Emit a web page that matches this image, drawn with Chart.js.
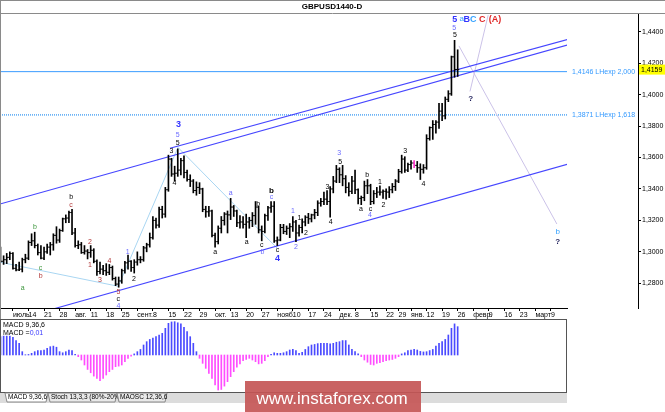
<!DOCTYPE html>
<html>
<head>
<meta charset="utf-8">
<script src="https://cdn.jsdelivr.net/npm/chart.js@4.4.1/dist/chart.umd.min.js"></script>
<style>
  html, body { margin: 0; padding: 0; background: #fff; }
  #wrap { position: relative; width: 665px; height: 412px; overflow: hidden; }
  #price { position: absolute; left: 0; top: 0; }
  #macd { position: absolute; left: 0; top: 319px; }
</style>
</head>
<body>
<div id="wrap">
  <canvas id="price" width="665" height="319"></canvas>
  <canvas id="macd" width="665" height="93"></canvas>
</div>
<script>
// daily bars, 3 Jul 2017 .. 26 Jan 2018 (index = trading day)
const openP = [
  1.3020,1.2940,1.2950,1.2965,1.2990,1.2895,1.2885,1.2890,1.2950,1.2960,
  1.3060,1.3070,1.3040,1.2995,1.2960,1.3000,1.3030,1.3045,1.3105,1.3075,
  1.3135,1.3210,1.3215,1.3250,1.3120,1.3040,1.3045,1.2995,1.3005,1.2995,
  1.3010,1.2940,1.2875,1.2890,1.2880,1.2870,1.2900,1.2830,1.2795,1.2815,
  1.2880,1.2930,1.2940,1.2900,1.2935,1.2950,1.2950,1.3025,1.3045,1.3090,
  1.3200,1.3170,1.3270,1.3240,1.3395,1.3590,1.3495,1.3500,1.3520,1.3580,
  1.3505,1.3460,1.3450,1.3390,1.3410,1.3400,1.3270,1.3255,1.3260,1.3105,
  1.3065,1.3150,1.3200,1.3240,1.3235,1.3285,1.3260,1.3185,1.3190,1.3175,
  1.3190,1.3200,1.3230,1.3285,1.3140,1.3130,1.3230,1.3280,1.3290,1.3070,
  1.3075,1.3155,1.3130,1.3150,1.3160,1.3190,1.3120,1.3155,1.3190,1.3220,
  1.3210,1.3235,1.3250,1.3310,1.3320,1.3335,1.3320,1.3400,1.3450,1.3525,
  1.3490,1.3465,1.3410,1.3385,1.3450,1.3395,1.3340,1.3345,1.3420,1.3420,
  1.3320,1.3370,1.3380,1.3380,1.3385,1.3380,1.3395,1.3415,1.3450,1.3510,
  1.3590,1.3520,1.3555,1.3565,1.3550,1.3535,1.3525,1.3535,1.3720,1.3790,
  1.3810,1.3825,1.3895,1.3865,1.3970,1.4005,1.4240,1.4160
];
const highP = [
  1.3030,1.2975,1.2990,1.3000,1.2995,1.2920,1.2935,1.2960,1.2985,1.3070,
  1.3115,1.3125,1.3050,1.3040,1.3030,1.3050,1.3060,1.3115,1.3160,1.3145,
  1.3215,1.3235,1.3260,1.3270,1.3150,1.3070,1.3060,1.3040,1.3015,1.3040,
  1.3020,1.2950,1.2935,1.2915,1.2925,1.2920,1.2910,1.2840,1.2840,1.2890,
  1.2940,1.2980,1.2945,1.2950,1.3000,1.2970,1.3035,1.3055,1.3120,1.3225,
  1.3215,1.3285,1.3290,1.3410,1.3615,1.3595,1.3545,1.3655,1.3595,1.3610,
  1.3520,1.3490,1.3460,1.3445,1.3440,1.3405,1.3290,1.3290,1.3265,1.3120,
  1.3165,1.3225,1.3250,1.3260,1.3340,1.3295,1.3265,1.3230,1.3225,1.3240,
  1.3220,1.3250,1.3320,1.3290,1.3165,1.3240,1.3290,1.3320,1.3320,1.3095,
  1.3175,1.3175,1.3165,1.3180,1.3225,1.3200,1.3170,1.3210,1.3230,1.3245,
  1.3240,1.3270,1.3325,1.3340,1.3380,1.3390,1.3415,1.3480,1.3550,1.3535,
  1.3550,1.3485,1.3440,1.3480,1.3520,1.3400,1.3355,1.3450,1.3460,1.3430,
  1.3390,1.3410,1.3420,1.3395,1.3400,1.3415,1.3435,1.3460,1.3525,1.3615,
  1.3605,1.3565,1.3580,1.3580,1.3575,1.3560,1.3555,1.3745,1.3795,1.3835,
  1.3835,1.3945,1.3945,1.3985,1.4025,1.4245,1.4345,1.4285
];
const lowP = [
  1.2935,1.2920,1.2925,1.2950,1.2890,1.2878,1.2880,1.2872,1.2930,1.2950,
  1.3040,1.3025,1.2980,1.2955,1.2950,1.2990,1.2980,1.3010,1.3055,1.3060,
  1.3130,1.3185,1.3185,1.3110,1.3030,1.3020,1.2990,1.2985,1.2955,1.2965,
  1.2930,1.2850,1.2860,1.2855,1.2850,1.2855,1.2820,1.2785,1.2775,1.2800,
  1.2865,1.2890,1.2875,1.2865,1.2915,1.2930,1.2940,1.3000,1.3030,1.3080,
  1.3150,1.3155,1.3215,1.3220,1.3385,1.3480,1.3450,1.3480,1.3490,1.3470,
  1.3450,1.3415,1.3375,1.3360,1.3370,1.3255,1.3220,1.3225,1.3095,1.3030,
  1.3050,1.3120,1.3170,1.3120,1.3205,1.3225,1.3160,1.3150,1.3150,1.3090,
  1.3150,1.3160,1.3175,1.3120,1.3070,1.3120,1.3200,1.3250,1.3060,1.3040,
  1.3070,1.3115,1.3110,1.3090,1.3130,1.3065,1.3100,1.3120,1.3165,1.3180,
  1.3190,1.3210,1.3230,1.3290,1.3300,1.3300,1.3220,1.3375,1.3440,1.3440,
  1.3420,1.3375,1.3355,1.3370,1.3370,1.3305,1.3300,1.3325,1.3370,1.3300,
  1.3305,1.3345,1.3360,1.3340,1.3335,1.3345,1.3375,1.3390,1.3440,1.3500,
  1.3505,1.3510,1.3525,1.3535,1.3505,1.3460,1.3500,1.3525,1.3710,1.3715,
  1.3755,1.3785,1.3835,1.3845,1.3955,1.3995,1.4110,1.4115
];
const closeP = [
  1.2940,1.2950,1.2965,1.2990,1.2895,1.2885,1.2890,1.2950,1.2960,1.3060,
  1.3070,1.3040,1.2995,1.2960,1.3000,1.3030,1.3045,1.3105,1.3075,1.3135,
  1.3210,1.3215,1.3250,1.3120,1.3040,1.3045,1.2995,1.3005,1.2995,1.3010,
  1.2940,1.2875,1.2890,1.2880,1.2870,1.2900,1.2830,1.2795,1.2815,1.2880,
  1.2930,1.2940,1.2900,1.2935,1.2950,1.2950,1.3025,1.3045,1.3090,1.3200,
  1.3170,1.3270,1.3240,1.3395,1.3590,1.3495,1.3500,1.3520,1.3580,1.3505,
  1.3460,1.3450,1.3390,1.3410,1.3400,1.3270,1.3255,1.3260,1.3105,1.3065,
  1.3150,1.3200,1.3240,1.3235,1.3285,1.3260,1.3185,1.3190,1.3175,1.3190,
  1.3200,1.3230,1.3285,1.3140,1.3130,1.3230,1.3280,1.3290,1.3070,1.3075,
  1.3155,1.3130,1.3150,1.3160,1.3190,1.3120,1.3155,1.3190,1.3220,1.3210,
  1.3235,1.3250,1.3310,1.3320,1.3335,1.3320,1.3400,1.3450,1.3525,1.3490,
  1.3465,1.3410,1.3385,1.3450,1.3395,1.3340,1.3345,1.3420,1.3420,1.3320,
  1.3370,1.3380,1.3380,1.3385,1.3380,1.3395,1.3415,1.3450,1.3510,1.3590,
  1.3520,1.3555,1.3565,1.3550,1.3535,1.3525,1.3535,1.3720,1.3790,1.3810,
  1.3825,1.3895,1.3865,1.3970,1.4005,1.4240,1.4160,1.4159
];

// MACD 9,36,6 histogram
const macdHist = [
  0.0066,0.0068,0.0068,0.0068,0.0064,0.0052,0.0042,0.0012,0.0001,0.0002,
  0.0006,0.0012,0.0016,0.0016,0.0018,0.0024,0.0030,0.0032,0.0028,0.0012,
  0.0008,0.0012,0.0018,0.0016,0.0002,-0.0006,-0.0018,-0.0036,-0.0052,-0.0064,
  -0.0076,-0.0084,-0.0092,-0.0084,-0.0072,-0.0060,-0.0052,-0.0042,-0.0040,-0.0036,
  -0.0024,-0.0012,-0.0004,0.0004,0.0012,0.0020,0.0036,0.0048,0.0056,0.0061,
  0.0066,0.0072,0.0078,0.0096,0.0114,0.0119,0.0120,0.0116,0.0112,0.0100,
  0.0084,0.0066,0.0042,0.0012,-0.0012,-0.0030,-0.0048,-0.0066,-0.0084,-0.0108,
  -0.0126,-0.0124,-0.0112,-0.0096,-0.0078,-0.0060,-0.0044,-0.0032,-0.0020,-0.0016,
  -0.0012,-0.0018,-0.0024,-0.0032,-0.0030,-0.0020,-0.0006,0.0002,0.0008,0.0006,
  0.0006,0.0008,0.0012,0.0018,0.0020,0.0016,0.0006,0.0010,0.0020,0.0030,
  0.0036,0.0038,0.0041,0.0042,0.0042,0.0042,0.0040,0.0042,0.0046,0.0048,
  0.0052,0.0052,0.0036,0.0020,0.0012,0.0004,-0.0006,-0.0018,-0.0026,-0.0034,
  -0.0036,-0.0030,-0.0028,-0.0024,-0.0020,-0.0018,-0.0016,-0.0012,-0.0006,0.0004,
  0.0008,0.0016,0.0018,0.0020,0.0018,0.0013,0.0011,0.0012,0.0016,0.0020,
  0.0032,0.0042,0.0048,0.0056,0.0072,0.0096,0.0112,0.0102
];

// date axis (Fridays), index into the bar list, continues into the future
const tickIdx = [4,9,14,19,24,29,34,39,44,49,54,59,64,69,74,79,84,89,94,99,104,
  109,114,119,124,128,132,137,142,147,152,157,162,167,172,177];
const tickLabels = ['июль','14','21','28','авг.','11','18','25','сент.','8','15','22','29',
  'окт.','13','20','27','нояб.','10','17','24','дек.','8','15','22','29','янв.','12','19','26',
  'февр.','9','16','23','март','9'];
const priceTicks = [1.28,1.30,1.32,1.34,1.36,1.38,1.40,1.42,1.44];

// channel and wave lines: [index, price] pairs
const chanLow = [[17.5, 1.2640], [182.2, 1.3556]];
const chanMid = [[-0.16, 1.3304], [182.2, 1.4315]];
const chanUp = [[54.5, 1.3659], [182.2, 1.4350]];
const waveA = [[-0.16, 1.2934], [37.88, 1.2781]];
const waveB = [[37.88, 1.2781], [57.07, 1.3664]];
const waveC = [[57.07, 1.3664], [89.23, 1.3018]];
const fcDown = [[147.4, 1.4310], [178.9, 1.3177]];
const fcUp = [[150.96, 1.4020], [156.8, 1.4505]];
const fibLevels = [1.4146, 1.3871];
const fibText = ['1,4146 LHexp 2,000', '1,3871 LHexp 1,618'];
const lastPrice = 1.4159;

// wave marks
const waveText = ['a','b','c','b','b','c','2','1','3','4','5','c','4','1','2',
  '3','4','5','5','3','a','a','a','b','c','b','b','c','c','4','1','1','2','2',
  '3','4','3','5','a','b','c','4','1','2','3','4','5','5','5','a','B','C','C','(A)','?','b','?'];
const waveIdx = [7.1,11.1,12.9,12.9,22.7,22.7,28.8,28.8,32.0,35.0,37.9,37.9,37.9,40.9,42.9,
  55.0,55.9,57.0,57.0,57.2,69.0,74.0,79.2,82.9,84.0,84.2,87.1,87.1,89.1,89.1,94.0,96.1,95.0,98.2,
  105.1,106.2,108.9,109.2,115.9,117.9,119.0,118.8,122.0,123.1,130.1,136.0,146.1,145.9,146.1,
  148.3,149.9,152.0,154.9,159.0,151.2,179.2,179.2];
const wavePrice = [1.2772,1.3160,1.2895,1.2848,1.3351,1.3298,1.3065,1.2916,1.2821,1.2942,1.2747,1.2700,1.2658,1.3001,1.2827,
  1.3643,1.3440,1.3690,1.3743,1.3807,1.3001,1.3372,1.3061,1.3301,1.3044,1.3001,1.3390,1.3349,1.3012,1.2958,1.3260,1.3213,1.3031,1.3118,
  1.3414,1.3188,1.3627,1.3573,1.3273,1.3489,1.3273,1.3234,1.3446,1.3298,1.3643,1.3431,1.4379,1.4425,1.4479,
  1.4479,1.4479,1.4479,1.4479,1.4479,1.3976,1.3128,1.3066];
const waveKind = ['g','g','g','r','k','r','r','r','r','r','r','k','v','v','k',
  'k','k','k','v','V','k','v','k','k','k','v','K','v','k','V','v','k','v','k',
  'k','k','v','k','k','k','k','v','k','k','k','k','k','v','V',
  'c','V','C','R','R','q','c','q'];

const FONT = '"Liberation Sans", Arial, sans-serif';
const kindStyle = {
  k: ['#000000', '7px'], K: ['#000000', 'bold 8px'], r: ['#b23a3a', '7px'], g: ['#3c963c', '7px'],
  v: ['#6a6aff', '7px'], V: ['#3434ff', 'bold 9px'], c: ['#35a2ff', '8px'], C: ['#35a2ff', 'bold 9px'],
  R: ['#e02828', 'bold 9px'], q: ['#1e1e5a', 'bold 8px']
};

const xMin = -0.16;
const yMin = 1.26429, yMax = 1.45126;

function seg(pts, color, width, dash) {
  return {
    type: 'line', data: pts.map(p => ({x: p[0], y: p[1]})), borderColor: color,
    borderWidth: width, borderDash: dash || [], pointRadius: 0, fill: false, order: 3
  };
}

const priceDecor = {
  id: 'priceDecor',
  afterDraw(chart) {
    const {ctx, chartArea: a, scales: {x, y}} = chart;
    ctx.save();
    // title bar
    ctx.strokeStyle = '#8a8a8a';
    ctx.lineWidth = 1;
    ctx.beginPath();
    ctx.moveTo(0, 0.5); ctx.lineTo(665, 0.5);
    ctx.moveTo(0, 13.5); ctx.lineTo(665, 13.5);
    ctx.moveTo(0.5, 0); ctx.lineTo(0.5, 319);
    ctx.stroke();
    ctx.fillStyle = '#000';
    ctx.font = 'bold 8px ' + FONT;
    ctx.textAlign = 'center';
    ctx.textBaseline = 'middle';
    ctx.fillText('GBPUSD1440-D', 332, 7);

    // level captions
    ctx.font = '7px ' + FONT;
    ctx.textAlign = 'left';
    ctx.fillStyle = '#3399ff';
    fibLevels.forEach((v, i) => ctx.fillText(fibText[i], a.right + 5, y.getPixelForValue(v)));

    // last price box
    const py = y.getPixelForValue(lastPrice);
    ctx.fillStyle = '#ffff00';
    ctx.fillRect(639, py - 5, 26, 10);
    ctx.fillStyle = '#000';
    ctx.fillText(lastPrice.toFixed(4).replace('.', ','), 641, py);

    // wave labels
    ctx.textAlign = 'center';
    waveText.forEach((t, i) => {
      const st = kindStyle[waveKind[i]];
      ctx.fillStyle = st[0];
      ctx.font = st[1] + ' ' + FONT;
      ctx.fillText(t, x.getPixelForValue(waveIdx[i]), y.getPixelForValue(wavePrice[i]));
    });
    ctx.restore();
  }
};

new Chart(document.getElementById('price'), {
  type: 'bar',
  data: {
    datasets: [
      seg(chanLow, '#4646ff', 1.2),
      seg(chanMid, '#4646ff', 1.2),
      seg(chanUp, '#4646ff', 1.2),
      seg(waveA, '#a9d6f2', 1),
      seg(waveB, '#a9d6f2', 1),
      seg(waveC, '#a9d6f2', 1),
      seg(fcDown, '#cbc2e8', 1),
      seg(fcUp, '#cbc2e8', 1),
      seg([[xMin, fibLevels[0]], [200, fibLevels[0]]], '#3a9cff', 1),
      seg([[xMin, fibLevels[1]], [200, fibLevels[1]]], '#55a8f5', 1.5, [1, 1]),
      {
        type: 'bar', data: highP.map((h, i) => ({x: i, y: [lowP[i], h]})),
        backgroundColor: highP.map((h, i) => i === 133 ? '#ff33cc' : '#000'),
        barThickness: 1, borderWidth: 0, order: 1
      },
      {
        type: 'scatter', data: openP.map((v, i) => ({x: i, y: v})), showLine: false,
        pointStyle: 'dash', pointRotation: 180, pointRadius: 1.6, pointBorderWidth: 1,
        pointBorderColor: '#000', pointBackgroundColor: '#000', order: 1
      },
      {
        type: 'scatter', data: closeP.map((v, i) => ({x: i, y: v})), showLine: false,
        pointStyle: 'dash', pointRotation: 0, pointRadius: 1.6, pointBorderWidth: 1,
        pointBorderColor: '#000', pointBackgroundColor: '#000', order: 1
      }
    ]
  },
  options: {
    responsive: false, animation: false, devicePixelRatio: 1,
    layout: {autoPadding: false, padding: {left: 0, right: 0, top: 14, bottom: 0}},
    plugins: {legend: {display: false}, tooltip: {enabled: false}, title: {display: false}},
    scales: {
      x: {
        type: 'linear', position: 'bottom', offset: false, bounds: 'data',
        min: xMin, max: xMin + 567 / 3.11,
        afterBuildTicks: s => { s.ticks = tickIdx.map(v => ({value: v})); },
        afterFit: s => { s.height = 11; s.paddingLeft = 0; s.paddingRight = 0; },
        ticks: {
          autoSkip: false, maxRotation: 0, minRotation: 0, align: 'start', padding: 0,
          color: '#000', font: {family: FONT, size: 7},
          callback: (v, i) => tickLabels[i]
        },
        grid: {display: true, offset: false, drawOnChartArea: false, drawTicks: true, tickLength: 3, color: '#000'},
        border: {display: true, color: '#000'}
      },
      y: {
        type: 'linear', position: 'right', min: yMin, max: yMax, weight: 0,
        ticks: {display: false}, grid: {display: false}, border: {display: false},
        afterFit: s => { s.width = 71; }
      },
      y2: {
        type: 'linear', position: 'right', min: yMin, max: yMax, weight: 1,
        afterBuildTicks: s => { s.ticks = priceTicks.map(v => ({value: v})); },
        afterFit: s => { s.width = 27; },
        ticks: {
          padding: 1, color: '#000', font: {family: FONT, size: 7},
          callback: v => v.toFixed(4).replace('.', ',')
        },
        grid: {display: true, drawOnChartArea: false, drawTicks: true, tickLength: 3, color: '#000'},
        border: {display: true, color: '#000'}
      }
    }
  },
  plugins: [priceDecor]
});

const macdDecor = {
  id: 'macdDecor',
  afterDraw(chart) {
    const {ctx, chartArea: a} = chart;
    ctx.save();
    ctx.strokeStyle = '#555';
    ctx.lineWidth = 1;
    ctx.strokeRect(0.5, a.top - 0.5, a.right, a.bottom - a.top + 1);
    ctx.font = '7px ' + FONT;
    ctx.textAlign = 'left';
    ctx.textBaseline = 'middle';
    ctx.fillStyle = '#000';
    ctx.fillText('MACD 9,36,6', 3, a.top + 5);
    ctx.fillText('MACD =', 3, a.top + 13);
    ctx.fillStyle = '#3a3aff';
    ctx.fillText('0,01', 3 + ctx.measureText('MACD =').width, a.top + 13);

    // tab strip
    const ty = a.bottom + 1;
    ctx.fillStyle = '#dcdcdc';
    ctx.fillRect(0, ty, a.right + 1, 10);
    const tabs = [['MACD 9,36,6', 5, 48, '#fff'], ['Stoch 13,3,3 (80%-20%)', 48, 117, '#e9e9e9'], ['MAOSC 12,36,6', 117, 167, '#e9e9e9']];
    ctx.font = '6.5px ' + FONT;
    tabs.forEach(t => {
      ctx.fillStyle = t[3];
      ctx.beginPath();
      ctx.moveTo(t[1], ty); ctx.lineTo(t[1] + 2, ty + 9); ctx.lineTo(t[2] - 2, ty + 9); ctx.lineTo(t[2], ty);
      ctx.closePath();
      ctx.fill();
      ctx.strokeStyle = '#888';
      ctx.stroke();
      ctx.fillStyle = '#000';
      ctx.fillText(t[0], t[1] + 3, ty + 4.5);
    });

    // watermark
    ctx.fillStyle = 'rgba(196, 86, 86, 0.92)';
    ctx.fillRect(245, 62, 176, 31);
    ctx.fillStyle = '#fff';
    ctx.font = '17px ' + FONT;
    ctx.textAlign = 'center';
    ctx.textBaseline = 'alphabetic';
    ctx.fillText('www.instaforex.com', 332, 85);
    ctx.restore();
  }
};

new Chart(document.getElementById('macd'), {
  type: 'bar',
  data: {
    datasets: [{
      data: macdHist.map((v, i) => ({x: i, y: v})),
      backgroundColor: macdHist.map(v => v >= 0 ? '#4a4aff' : '#ff4cff'),
      barThickness: 1, borderWidth: 0
    }]
  },
  options: {
    responsive: false, animation: false, devicePixelRatio: 1,
    layout: {autoPadding: false, padding: {left: 0, right: 99, top: 1, bottom: 20}},
    plugins: {legend: {display: false}, tooltip: {enabled: false}},
    scales: {
      x: {type: 'linear', display: false, offset: false, bounds: 'data', min: xMin, max: xMin + 566 / 3.11},
      y: {display: false, min: -0.01332, max: 0.0126}
    }
  },
  plugins: [macdDecor]
});
</script>
</body>
</html>
